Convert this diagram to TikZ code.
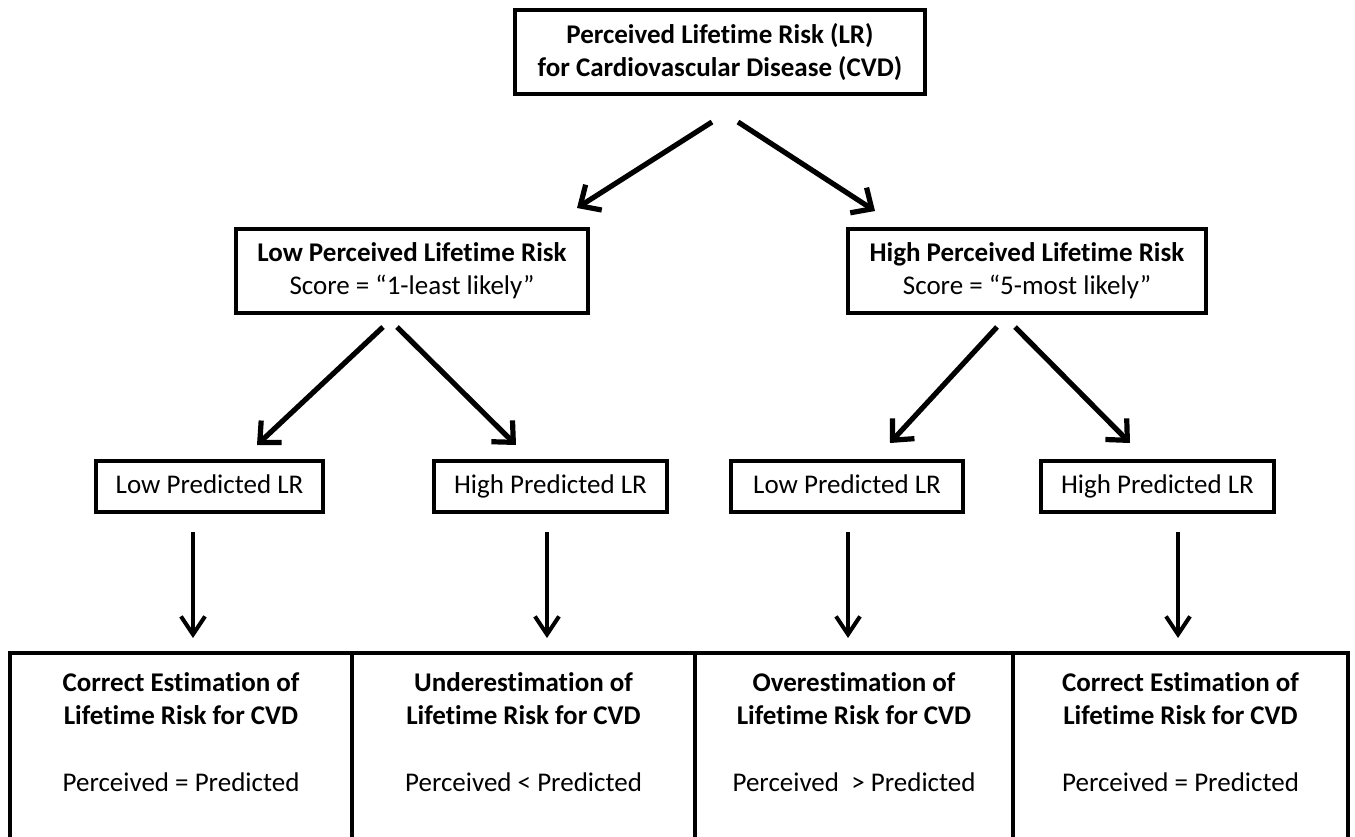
\documentclass[tikz,border=0pt]{standalone}
\usepackage{fontspec}
\setmainfont{Carlito}[Ligatures=NoCommon]
\usetikzlibrary{arrows.meta, calc}

\begin{document}
\begin{tikzpicture}[x=0.5pt, y=-0.5pt,
    box/.style={draw, line width=2pt, inner sep=0pt, align=center, font=\fontsize{13.5pt}{16.5pt}\selectfont},
    predbox/.style={box, minimum height=25.5pt, text height=9.5pt, text depth=3pt},
    bigarr/.style={line width=2.6pt, -{Straight Barb[length=8pt, width=15pt]}},
    smallarr/.style={line width=2pt, -{Straight Barb[length=9pt, width=12pt]}}]
    \useasboundingbox (0,0) rectangle (1355,836);

    \node[box, minimum width=205pt, minimum height=42pt] (lr) at (720,52) {\textbf{Perceived Lifetime Risk (LR)}\\\textbf{for Cardiovascular Disease (CVD)}};

    \node[box, minimum width=176pt, minimum height=42pt] (lowperc) at (412,271) {\textbf{Low Perceived Lifetime Risk}\\Score = “1-least likely”};
    \node[box, minimum width=179pt, minimum height=42pt] (highperc) at (1027,271) {\textbf{High Perceived Lifetime Risk}\\Score = “5-most likely”};

    \node[predbox, minimum width=113.5pt] (lowpred1) at (209.5,486.5) {Low Predicted LR};
    \node[predbox, minimum width=116.5pt] (highpred1) at (550.5,486.5) {High Predicted LR};
    \node[predbox, minimum width=116pt] (lowpred2) at (847,486.5) {Low Predicted LR};
    \node[predbox, minimum width=116.5pt] (highpred2) at (1157.5,486.5) {High Predicted LR};

    \node[box, minimum width=171pt, minimum height=95pt] (correct1) at (181,748) {\textbf{Correct Estimation of}\\\textbf{Lifetime Risk for CVD}\\[17pt]Perceived = Predicted\rule[-16pt]{0pt}{0pt}};
    \node[box, minimum width=171.5pt, minimum height=95pt] (under) at (523.5,748) {\textbf{Underestimation of}\\\textbf{Lifetime Risk for CVD}\\[17pt]Perceived < Predicted\rule[-16pt]{0pt}{0pt}};
    \node[box, minimum width=159pt, minimum height=95pt] (over) at (854,748) {\textbf{Overestimation of}\\\textbf{Lifetime Risk for CVD}\\[17pt]Perceived~ > Predicted\rule[-16pt]{0pt}{0pt}};
    \node[box, minimum width=167.5pt, minimum height=95pt] (correct2) at (1180.5,748) {\textbf{Correct Estimation of}\\\textbf{Lifetime Risk for CVD}\\[17pt]Perceived = Predicted\rule[-16pt]{0pt}{0pt}};

    % top level
    \draw[bigarr] ($(lr.south)+(-8,26)$) -- ($(lowperc.north)+(165,-19)$);
    \draw[bigarr] ($(lr.south)+(18,26)$) -- ($(highperc.north)+(-152,-16)$);

    % perceived to predicted
    \draw[bigarr] ($(lowperc.south)+(-29,12)$) -- ($(lowpred1.north)+(47.5,-14)$);
    \draw[bigarr] ($(lowperc.south)+(-15,12)$) -- ($(highpred1.north)+(-34.5,-14)$);
    \draw[bigarr] ($(highperc.south)+(-30,12)$) -- ($(lowpred2.north)+(43,-16)$);
    \draw[bigarr] ($(highperc.south)+(-12,12)$) -- ($(highpred2.north)+(-27.5,-16)$);

    % predicted to result
    \draw[smallarr] ($(lowpred1.south)+(-16.5,18)$) -- ($(correct1.north)+(12,-13)$);
    \draw[smallarr] ($(highpred1.south)+(-3.5,18)$) -- ($(under.north)+(23.5,-13)$);
    \draw[smallarr] ($(lowpred2.south)+(1,18)$) -- ($(over.north)+(-6,-13)$);
    \draw[smallarr] ($(highpred2.south)+(20.5,18)$) -- ($(correct2.north)+(-2.5,-13)$);
\end{tikzpicture}
\end{document}
